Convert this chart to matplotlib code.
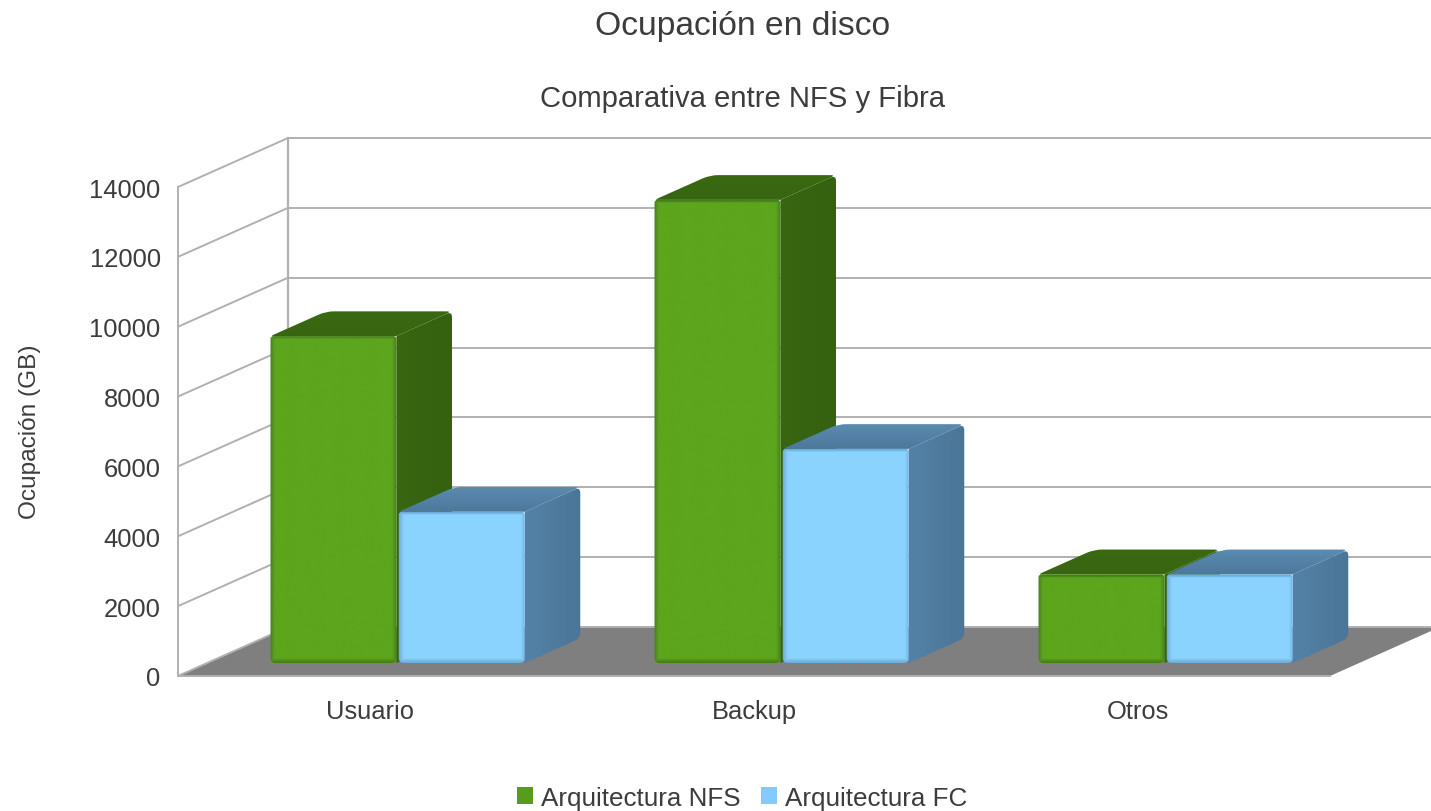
import numpy as np
import matplotlib
matplotlib.use('Agg')
import matplotlib.pyplot as plt
from matplotlib.colors import to_rgb
from matplotlib.path import Path
from matplotlib.patches import PathPatch, Polygon, Patch
from matplotlib.transforms import IdentityTransform

categorias = ['Usuario', 'Backup', 'Otros']
nfs_vals = [9360, 13260, 2540]
fc_vals = [4330, 6130, 2540]
ticks_y = [0, 2000, 4000, 6000, 8000, 10000, 12000, 14000]

plt.rcParams['font.family'] = ['Liberation Sans', 'DejaVu Sans']
W, H = 1431, 812
TXT = '#3c3c3c'
GRID = '#b0b0b0'

fig = plt.figure(figsize=(W/100, H/100), dpi=100)
ax = fig.add_axes([178/W, (H-677)/H, 1152/W, 489/H])
ax.set_xlim(0, 3)
ax.set_ylim(0, 14000)
ax.set_autoscale_on(False)
for s in ax.spines.values():
    s.set_visible(False)

# oblique depth of the 3d box, in data units
DX = 110/384.
DY = 49/(489/14000.)
D0 = 0.265   # front of the bars
D1 = 0.77    # back of the bars
BW = 0.328
GAP = 0.003
SHIFT = -0.004

def pr(x, v, d):
    return (x + d*DX, v + d*DY)

def rounded(points, radii):
    pts = ax.transData.transform(points)
    n = len(pts)
    verts, codes = [], []
    for i in range(n):
        p, a, b = pts[i], pts[i-1], pts[(i+1) % n]
        r = radii[i]
        ua = (a-p)/np.hypot(*(a-p))
        ub = (b-p)/np.hypot(*(b-p))
        verts += [p+ua*r, p, p+ub*r]
        codes += [Path.LINETO, Path.CURVE3, Path.CURVE3]
    codes[0] = Path.MOVETO
    verts.append(verts[0])
    codes.append(Path.CLOSEPOLY)
    return Path(verts, codes)

def paint(points, radii, img, zo):
    patch = PathPatch(rounded(points, radii), transform=IdentityTransform(),
                      facecolor='none', edgecolor='none', clip_on=False, zorder=zo)
    ax.add_patch(patch)
    xs = [p[0] for p in points]
    ys = [p[1] for p in points]
    # small margin, otherwise the image edge fades into the background
    px, py = 0.008, 45
    im = ax.imshow(img, extent=(min(xs)-px, max(xs)+px, min(ys)-py, max(ys)+py), origin='lower',
                   aspect='auto', interpolation='bilinear', zorder=zo)
    im.set_clip_path(patch)
    im.set_clip_box(fig.bbox)

def grad(c0, c1, vertical):
    c0 = np.array(to_rgb(c0))
    c1 = np.array(to_rgb(c1))
    t = np.linspace(0, 1, 32)[:, None]
    g = c0 + (c1-c0)*t
    return g[:, None, :] if vertical else g[None, :, :]

def bevel(points, col, edge):
    # darker rim of a few pixels round the front face
    p = ax.transData.transform(points)
    w = int(abs(p[1][0]-p[0][0])) + 6
    h = int(abs(p[2][1]-p[0][1])) + 6
    xx, yy = np.meshgrid(np.arange(w)-2.5, np.arange(h)-2.5)
    d = np.minimum.reduce([xx/5., (w-6-xx)/5., yy/4., (h-6-yy)/2.])
    d = np.clip(d, 0, 1)[:, :, None]
    return np.array(to_rgb(edge)) + (np.array(to_rgb(col))-np.array(to_rgb(edge)))*d

def barra(x0, v, zo, col, edge, top0, top1, side0, side1):
    x1 = x0 + BW
    face = [pr(x0, 0, D0), pr(x1, 0, D0), pr(x1, v, D0), pr(x0, v, D0)]
    side = [pr(x1, 0, D0), pr(x1, 0, D1), pr(x1, v, D1), pr(x1, v, D0)]
    top = [pr(x0, v, D0), pr(x1, v, D0), pr(x1, v, D1), pr(x0, v, D1)]
    paint(side, [0, 6, 6, 0], grad(side0, side1, False), zo)
    paint(top, [3, 0, 6, 8], grad(top1, top0, True), zo+.1)
    paint(face, [5, 5, 3, 3], bevel(face, col, edge), zo+.2)

# floor and walls
ax.add_patch(Polygon([pr(0, 0, 0), pr(3, 0, 0), pr(3, 0, 1), pr(0, 0, 1)],
                     facecolor='#7f7f7f', edgecolor='none', clip_on=False, zorder=1))
for t in ticks_y:
    ax.plot(*zip(pr(0, t, 0), pr(0, t, 1)), color=GRID, lw=1.4, clip_on=False, zorder=1.5,
            solid_capstyle='butt')
    ax.plot(*zip(pr(0, t, 1), pr(3, t, 1)), color=GRID, lw=1.4, clip_on=False, zorder=1.5,
            solid_capstyle='butt')
ax.plot(*zip(pr(0, 0, 0), pr(0, 14000, 0)), color=GRID, lw=1.4, clip_on=False, zorder=1.5)
ax.plot(*zip(pr(0, 0, 1), pr(0, 14000, 1)), color=GRID, lw=1.6, clip_on=False, zorder=1.4)
ax.plot(*zip(pr(0, 0, 0), pr(3, 0, 0)), color=GRID, lw=1.4, clip_on=False, zorder=1.5)

zo = 2
for i in range(len(categorias)):
    c = i + .5 + SHIFT
    barra(c-BW-GAP, nfs_vals[i], zo, '#5da51d', '#44801a', '#3b6912', '#386510', '#396611', '#356110')
    barra(c+GAP, fc_vals[i], zo+1, '#8ad3ff', '#6fadd9', '#5c8cb2', '#4c7799', '#5482a8', '#4b7596')
    zo += 2

ax.set_xticks([i+.5 for i in range(len(categorias))])
ax.set_xticklabels(categorias)
ax.set_yticks(ticks_y)
ax.tick_params(axis='y', length=0, pad=12.5, labelsize=18.4, labelcolor=TXT)
ax.tick_params(axis='x', length=0, pad=16.5, labelsize=18.4, labelcolor=TXT)
ax.set_ylabel('Ocupación (GB)', fontsize=17.6, color=TXT)
ax.yaxis.set_label_coords((41-178)/1152., (677-431.5)/489.)

fig.text(742.5/W, 1-26/H, 'Ocupación en disco', fontsize=24.25, color=TXT, ha='center', va='center')
fig.text(742/W, 1-99/H, 'Comparativa entre NFS y Fibra', fontsize=21.1, color=TXT, ha='center', va='center')

hs = [Patch(facecolor='#579d1c', edgecolor='none'), Patch(facecolor='#83caff', edgecolor='none')]
fig.legend(hs, ['Arquitectura NFS', 'Arquitectura FC'], ncol=2, frameon=False, loc='center',
           bbox_to_anchor=(742/W, 1-799/H), fontsize=18.7, labelcolor=TXT,
           handlelength=.62, handleheight=.62, handletextpad=.3, columnspacing=.8,
           borderpad=0, borderaxespad=0)

fig.savefig('out.png', dpi=100)
